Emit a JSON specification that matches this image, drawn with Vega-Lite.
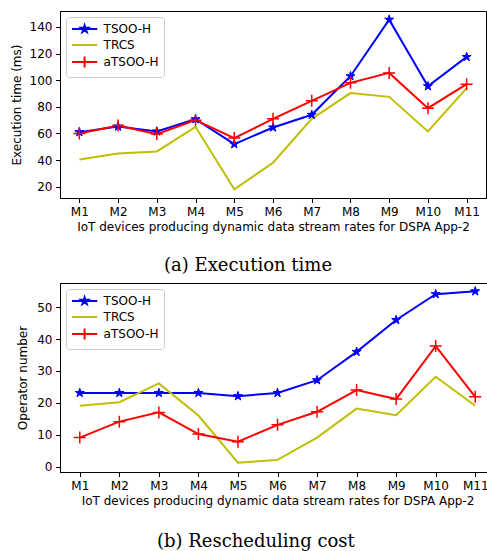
{
  "$schema": "https://vega.github.io/schema/vega-lite/v6.json",
  "background": "white",
  "padding": {"left": 9, "top": 10, "right": 1, "bottom": 0},
  "columns": 1,
  "align": "none",
  "spacing": 6,
  "datasets": {
    "exec": [
      {"device": "M1", "series": "TSOO-H", "value": 61},
      {"device": "M2", "series": "TSOO-H", "value": 65.2},
      {"device": "M3", "series": "TSOO-H", "value": 61.5},
      {"device": "M4", "series": "TSOO-H", "value": 70.7},
      {"device": "M5", "series": "TSOO-H", "value": 52},
      {"device": "M6", "series": "TSOO-H", "value": 64.5},
      {"device": "M7", "series": "TSOO-H", "value": 74},
      {"device": "M8", "series": "TSOO-H", "value": 103},
      {"device": "M9", "series": "TSOO-H", "value": 145.5},
      {"device": "M10", "series": "TSOO-H", "value": 95.5},
      {"device": "M11", "series": "TSOO-H", "value": 117.5},
      {"device": "M1", "series": "TRCS", "value": 40.5},
      {"device": "M2", "series": "TRCS", "value": 45},
      {"device": "M3", "series": "TRCS", "value": 46.5},
      {"device": "M4", "series": "TRCS", "value": 65},
      {"device": "M5", "series": "TRCS", "value": 18},
      {"device": "M6", "series": "TRCS", "value": 38},
      {"device": "M7", "series": "TRCS", "value": 71},
      {"device": "M8", "series": "TRCS", "value": 90.3},
      {"device": "M9", "series": "TRCS", "value": 87.5},
      {"device": "M10", "series": "TRCS", "value": 61.5},
      {"device": "M11", "series": "TRCS", "value": 94},
      {"device": "M1", "series": "aTSOO-H", "value": 60},
      {"device": "M2", "series": "aTSOO-H", "value": 66},
      {"device": "M3", "series": "aTSOO-H", "value": 59.5},
      {"device": "M4", "series": "aTSOO-H", "value": 70},
      {"device": "M5", "series": "aTSOO-H", "value": 56.5},
      {"device": "M6", "series": "aTSOO-H", "value": 71},
      {"device": "M7", "series": "aTSOO-H", "value": 84.5},
      {"device": "M8", "series": "aTSOO-H", "value": 98},
      {"device": "M9", "series": "aTSOO-H", "value": 105.5},
      {"device": "M10", "series": "aTSOO-H", "value": 79},
      {"device": "M11", "series": "aTSOO-H", "value": 97}
    ],
    "resched": [
      {"device": "M1", "series": "TSOO-H", "value": 23.1},
      {"device": "M2", "series": "TSOO-H", "value": 23.1},
      {"device": "M3", "series": "TSOO-H", "value": 23.1},
      {"device": "M4", "series": "TSOO-H", "value": 23.1},
      {"device": "M5", "series": "TSOO-H", "value": 22.1},
      {"device": "M6", "series": "TSOO-H", "value": 23.1},
      {"device": "M7", "series": "TSOO-H", "value": 27.1},
      {"device": "M8", "series": "TSOO-H", "value": 36},
      {"device": "M9", "series": "TSOO-H", "value": 46},
      {"device": "M10", "series": "TSOO-H", "value": 54.1},
      {"device": "M11", "series": "TSOO-H", "value": 55},
      {"device": "M1", "series": "TRCS", "value": 19.1},
      {"device": "M2", "series": "TRCS", "value": 20.2},
      {"device": "M3", "series": "TRCS", "value": 26.1},
      {"device": "M4", "series": "TRCS", "value": 16},
      {"device": "M5", "series": "TRCS", "value": 1.2},
      {"device": "M6", "series": "TRCS", "value": 2.1},
      {"device": "M7", "series": "TRCS", "value": 9.1},
      {"device": "M8", "series": "TRCS", "value": 18.2},
      {"device": "M9", "series": "TRCS", "value": 16.1},
      {"device": "M10", "series": "TRCS", "value": 28.2},
      {"device": "M11", "series": "TRCS", "value": 19.1},
      {"device": "M1", "series": "aTSOO-H", "value": 9.1},
      {"device": "M2", "series": "aTSOO-H", "value": 14.1},
      {"device": "M3", "series": "aTSOO-H", "value": 17},
      {"device": "M4", "series": "aTSOO-H", "value": 10.2},
      {"device": "M5", "series": "aTSOO-H", "value": 7.8},
      {"device": "M6", "series": "aTSOO-H", "value": 13.1},
      {"device": "M7", "series": "aTSOO-H", "value": 17.2},
      {"device": "M8", "series": "aTSOO-H", "value": 24},
      {"device": "M9", "series": "aTSOO-H", "value": 21.2},
      {"device": "M10", "series": "aTSOO-H", "value": 37.8},
      {"device": "M11", "series": "aTSOO-H", "value": 21.9}
    ]
  },
  "concat": [
    {
      "width": 426,
      "height": 187,
      "data": {"name": "exec"},
      "title": {"text": "(a) Execution time", "orient": "bottom", "frame": "bounds", "anchor": "middle", "font": "DejaVu Serif", "fontSize": 18, "fontWeight": "normal", "color": "black", "offset": 25},
      "encoding": {
        "x": {"field": "device", "type": "ordinal", "sort": null,
              "scale": {"type": "point", "padding": 0.5},
              "axis": {"title": "IoT devices producing dynamic data stream rates for DSPA App-2", "labelAngle": 0}},
        "y": {"field": "value", "type": "quantitative",
              "scale": {"domain": [11.5, 152], "nice": false, "zero": false},
              "axis": {"title": "Execution time (ms)", "values": [20, 40, 60, 80, 100, 120, 140], "titlePadding": 6}}
      },
      "layer": [
        {
          "mark": {"type": "line", "strokeWidth": 2},
          "encoding": {
            "color": {"field": "series", "type": "nominal",
                      "scale": {"domain": ["TSOO-H", "TRCS", "aTSOO-H"], "range": ["#0000ff", "#bfbf00", "#ff0000"]},
                      "legend": {
                        "encode": {
                          "symbols": {
                            "update": {
                              "shape": {"signal": "datum.value === 'TSOO-H' ? 'M-2.1,0H2.1M0,-0.62L0.142,-0.195L0.59,-0.192L0.228,0.074L0.364,0.502L0,0.24L-0.364,0.502L-0.228,0.074L-0.59,-0.192L-0.142,-0.195Z' : datum.value === 'TRCS' ? 'M-2.1,0H2.1' : 'M-2.1,0H2.1M0,-0.9V0.9'"},
                              "fill": {"signal": "datum.value === 'TSOO-H' ? '#0000ff' : 'transparent'"},
                              "stroke": {"signal": "datum.value === 'TSOO-H' ? '#0000ff' : datum.value === 'TRCS' ? '#bfbf00' : '#ff0000'"},
                              "opacity": {"value": 1}
                            }
                          }
                        }
                      }}
          }
        },
        {
          "transform": [{"filter": "datum.series === 'TSOO-H'"}],
          "mark": {"type": "point", "filled": true, "color": "#0000ff", "stroke": "#0000ff", "strokeWidth": 1, "opacity": 1, "size": 90,
                   "shape": "M0,-1L0.223,-0.307L0.951,-0.309L0.361,0.117L0.588,0.809L0,0.38L-0.588,0.809L-0.361,0.117L-0.951,-0.309L-0.223,-0.307Z"}
        },
        {
          "transform": [{"filter": "datum.series === 'aTSOO-H'"}],
          "mark": {"type": "point", "filled": false, "color": "#ff0000", "strokeWidth": 1.5, "opacity": 1, "size": 144,
                   "shape": "M-1,0H1M0,-1V1"}
        }
      ]
    },
    {
      "width": 435,
      "height": 189,
      "data": {"name": "resched"},
      "title": {"text": "(b) Rescheduling cost", "orient": "bottom", "frame": "bounds", "anchor": "middle", "font": "DejaVu Serif", "fontSize": 18, "fontWeight": "normal", "color": "black", "offset": 27},
      "encoding": {
        "x": {"field": "device", "type": "ordinal", "sort": null,
              "scale": {"type": "point", "padding": 0.5},
              "axis": {"title": "IoT devices producing dynamic data stream rates for DSPA App-2", "labelAngle": 0}},
        "y": {"field": "value", "type": "quantitative",
              "scale": {"domain": [-1.7, 57.6], "nice": false, "zero": false},
              "axis": {"title": "Operator number", "values": [0, 10, 20, 30, 40, 50], "titlePadding": 7}}
      },
      "layer": [
        {
          "mark": {"type": "line", "strokeWidth": 2},
          "encoding": {
            "color": {"field": "series", "type": "nominal",
                      "scale": {"domain": ["TSOO-H", "TRCS", "aTSOO-H"], "range": ["#0000ff", "#bfbf00", "#ff0000"]},
                      "legend": {
                        "encode": {
                          "symbols": {
                            "update": {
                              "shape": {"signal": "datum.value === 'TSOO-H' ? 'M-2.1,0H2.1M0,-0.62L0.142,-0.195L0.59,-0.192L0.228,0.074L0.364,0.502L0,0.24L-0.364,0.502L-0.228,0.074L-0.59,-0.192L-0.142,-0.195Z' : datum.value === 'TRCS' ? 'M-2.1,0H2.1' : 'M-2.1,0H2.1M0,-0.9V0.9'"},
                              "fill": {"signal": "datum.value === 'TSOO-H' ? '#0000ff' : 'transparent'"},
                              "stroke": {"signal": "datum.value === 'TSOO-H' ? '#0000ff' : datum.value === 'TRCS' ? '#bfbf00' : '#ff0000'"},
                              "opacity": {"value": 1}
                            }
                          }
                        }
                      }}
          }
        },
        {
          "transform": [{"filter": "datum.series === 'TSOO-H'"}],
          "mark": {"type": "point", "filled": true, "color": "#0000ff", "stroke": "#0000ff", "strokeWidth": 1, "opacity": 1, "size": 90,
                   "shape": "M0,-1L0.223,-0.307L0.951,-0.309L0.361,0.117L0.588,0.809L0,0.38L-0.588,0.809L-0.361,0.117L-0.951,-0.309L-0.223,-0.307Z"}
        },
        {
          "transform": [{"filter": "datum.series === 'aTSOO-H'"}],
          "mark": {"type": "point", "filled": false, "color": "#ff0000", "strokeWidth": 1.5, "opacity": 1, "size": 144,
                   "shape": "M-1,0H1M0,-1V1"}
        }
      ]
    }
  ],
  "resolve": {"scale": {"color": "independent"}, "legend": {"color": "independent"}},
  "config": {
    "view": {"stroke": "black", "strokeWidth": 1},
    "font": "DejaVu Sans",
    "axis": {
      "grid": false,
      "domainColor": "black",
      "tickColor": "black",
      "tickSize": 4.5,
      "labelPadding": 3.5,
      "labelColor": "black",
      "labelFont": "DejaVu Sans",
      "labelFontSize": 12,
      "titleFont": "DejaVu Sans",
      "titleFontSize": 12,
      "titleFontWeight": "normal",
      "titleColor": "black",
      "titlePadding": 4
    },
    "legend": {
      "orient": "top-left",
      "offset": 6,
      "title": null,
      "fillColor": "rgba(255,255,255,0.85)",
      "strokeColor": "#cccccc",
      "cornerRadius": 3,
      "padding": 5,
      "rowPadding": 1,
      "symbolSize": 144,
      "symbolOffset": 6.6,
      "labelOffset": 12,
      "labelFont": "DejaVu Sans",
      "labelFontSize": 12,
      "labelColor": "black",
      "symbolStrokeWidth": 2
    }
  }
}
